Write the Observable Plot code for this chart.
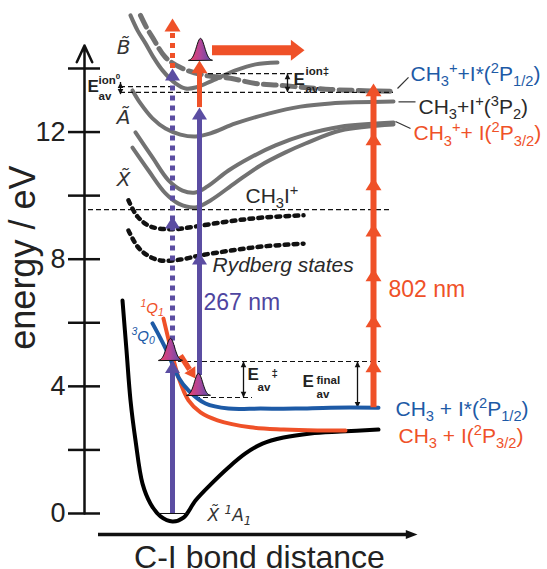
<!DOCTYPE html>
<html><head><meta charset="utf-8">
<script src="https://cdn.jsdelivr.net/npm/d3@7"></script>
<script src="https://cdn.jsdelivr.net/npm/@observablehq/plot@0.6"></script>
<style>
html,body{margin:0;padding:0;background:#fff;}
#chart{width:547px;height:569px;overflow:hidden;}
</style></head><body><div id="chart"></div>
<script>
// ---------- data (x: C-I bond distance, arbitrary units; y: energy in eV) ----------
const energyTicks = [0, 2, 4, 6, 8, 10, 12, 14];
const energyTickLabels = [0, 4, 8, 12];

const groundX1A1 = [[122,6.70],[126,5.13],[130,3.56],[135,2.30],[142,0.94],[150,0.31],[160,-0.09],[172,-0.25],[183,-0.13],[195,0.41],[210,0.91],[228,1.45],[245,1.89],[262,2.20],[283,2.39],[310,2.52],[340,2.58],[378,2.64]];
const state1Q1 = [[163,6.13],[170,5.22],[178,4.28],[188,3.56],[200,3.18],[217,2.93],[250,2.71],[283,2.64],[317,2.61],[345,2.61]];
const state3Q0 = [[152,5.98],[160,5.51],[167,5.07],[178,4.28],[188,3.87],[205,3.46],[228,3.30],[260,3.30],[295,3.30],[330,3.33],[378,3.33]];
const cationA = [[132,13.31],[140,12.90],[152,12.43],[165,12.11],[180,11.92],[195,11.86],[210,11.96],[235,12.27],[268,12.58],[300,12.80],[330,12.90],[393,12.96]];
const cationX1 = [[135,11.99],[152,11.20],[168,10.48],[182,10.16],[195,10.10],[207,10.29],[228,10.79],[250,11.20],[275,11.58],[305,11.92],[340,12.17],[393,12.30]];
const cationX2 = [[132,11.51],[148,10.79],[165,10.07],[178,9.75],[195,9.63],[210,9.85],[235,10.41],[260,10.95],[285,11.36],[305,11.64],[340,12.05],[393,12.24]];
const cationB = [[130,15.67],[137,15.20],[145,14.79],[153,14.35],[162,13.94],[175,13.53],[185,13.37],[195,13.40],[212,13.62],[235,13.94],[255,14.13],[277,14.19]];
const cationBdiss = [[140,15.67],[146,15.29],[152,14.98],[165,14.35],[182,14.00],[205,13.78],[230,13.69],[255,13.53],[280,13.47],[330,13.34],[393,13.28]];
const rydberg1 = [[128,9.85],[137,9.34],[150,9.03],[172,8.94],[195,9.03],[228,9.19],[262,9.31],[303,9.38]];
const rydberg2 = [[128,8.90],[137,8.40],[147,8.12],[160,7.96],[180,7.99],[200,8.12],[230,8.27],[262,8.40],[303,8.49]];

const refLevels = [
  {e:9.56, x1:88, x2:390}, {e:13.43, x1:120, x2:172}, {e:13.25, x1:120, x2:393},
  {e:13.84, x1:208, x2:292}, {e:4.78, x1:178, x2:380}, {e:3.65, x1:195, x2:252}
];
const energyGaps = [
  {x:120, top:13.56, bottom:13.18}, {x:287, top:13.84, bottom:13.25},
  {x:243, top:4.78, bottom:3.65}, {x:357, top:4.78, bottom:3.33}
];
const zeroLevel = [{e:0, x1:158, x2:188}];

const pumpSolid = [{x:172, e1:0, e2:4.7}];
const pumpDotted = [{x:172, e1:4.8, e2:13.85}];
const probeDotted = [{x:172, e1:14.0, e2:15.25}];
const probeSolidPurple = [{x:199, e1:4.34, e2:12.6}];
const probeSolidRed = [{x:199, e1:12.77, e2:14.05}];
const multiphoton = [{x:373, e1:3.33, e2:13.3}];
const purpleHeads = [{x:172,e:4.80},{x:172,e:9.34},{x:172,e:14.0},{x:199,e:8.21},{x:199,e:12.77}];
const redHeads = [{x:172,e:15.57},{x:199,e:14.25},{x:373,e:4.85},{x:373,e:6.26},{x:373,e:7.71},{x:373,e:9.12},{x:373,e:10.57},{x:373,e:11.99},{x:373,e:13.53}];
const wavepackets = [{x:170,e:4.81},{x:198,e:3.71},{x:200,e:14.25}];
const flyShaft = [{e:14.57, x1:212, x2:295}];
const flyHead = [{x:304, e:14.57}];
const relaxShaft = [{x1:180, e1:4.97, x2:189, e2:4.53}];
const relaxHead = [{x:195, e:4.25}];
const leaders = [{x1:397,e1:13.37,x2:408,e2:13.72},{x1:398,e1:12.95,x2:415,e2:12.95},{x1:395,e1:12.33,x2:410,e2:12.11}];

const blueLabels = [{x:410, e:13.83, label:"CH_{3}^{+}+I*(^{2}P_{1/2})"}, {x:395, e:3.29, label:"CH_{3} + I*(^{2}P_{1/2})"}];
const redLabels = [{x:413, e:11.95, label:"CH_{3}^{+}+ I(^{2}P_{3/2})"}, {x:398, e:2.44, label:"CH_{3} + I(^{2}P_{3/2})"}];
const inkLabels = [{x:418, e:12.79, label:"CH_{3}+I^{+}(^{3}P_{2})"}, {x:245, e:9.99, label:"CH_{3}I^{+}"}];
const stateLetters = [{x:123, e:14.67, label:"B\u0303"}, {x:123, e:12.47, label:"A\u0303"}, {x:123, e:10.52, label:"X\u0303"}];
const groundLabel = [{x:207, e:-0.05, label:"X\u0303 ^{1}A_{1}"}];
const qLabels = [{x:140, e:6.47, label:"^{1}Q_{1}", state:"1Q1"}, {x:131, e:5.59, label:"^{3}Q_{0}", state:"3Q0"}];
const photonLabels = [{x:388, e:7.03, label:"802 nm", beam:"probe"}, {x:203, e:6.62, label:"267 nm", beam:"pump"}];
const rydbergLabel = [{x:212, e:7.82, label:"Rydberg states"}];
const eLabels = [
  {x:87, e:13.42, xSup:98, eSup:13.64, sup:"ion^{0}", xSub:98, eSub:13.14, sub:"av"},
  {x:293, e:13.65, xSup:305, eSup:13.91, sup:"ion\u2021", xSub:305, eSub:13.34, sub:"av"},
  {x:247, e:4.37, xSup:271, eSup:4.40, sup:"\u2021", xSub:257, eSub:3.98, sub:"av"},
  {x:302, e:4.14, xSup:316, eSup:4.18, sup:"final", xSub:316, eSub:3.76, sub:"av"}
];
const axisTitles = [{x:23, e:8.05, label:"energy / eV"}];
const axisXTitle = [{x:259, e:-1.38, label:"C-I bond distance"}];
const xAxisLine = [{x1:98, x2:406, e:-0.661}];
const xAxisHead = [{x:417, e:-0.661}];
const yAxisLine = [{x:84, e1:0, e2:14.72}];

// ---------- styles ----------
const RED = "#ef5128", BLUE = "#1d5aa6", PURPLE = "#5b4da2", GRAY = "#727272";
const tipSymbol = ratio => ({draw(ctx, size){const r = Math.sqrt(size/Math.PI), h = ratio*r; ctx.moveTo(0,0); ctx.lineTo(-r,h); ctx.lineTo(r,h); ctx.closePath();}});
const head = tipSymbol(1.6), sharp = tipSymbol(2.0), wide = tipSymbol(1.3), slim = tipSymbol(2.6);
const bell = {draw(ctx, size){const r = Math.sqrt(size/Math.PI), h = 1.85*r, s = 0.34*r, N = 30; ctx.moveTo(-r,0); for (let i = 0; i <= N; i++){const x = -r + 2*r*i/N; ctx.lineTo(x, -h*Math.exp(-x*x/(2*s*s)));} ctx.closePath();}};
const xy = {x: d => d[0], y: d => d[1], curve: "catmull-rom"};
const SANS = "'Liberation Sans', Arial, sans-serif";

const plot = Plot.plot({
  width: 547, height: 569, margin: 0,
  x: {domain: [0, 547], axis: null},
  y: {domain: [-1.762, 16.139], axis: null},
  style: {fontFamily: SANS, background: "#fff"},
  marks: [
    Plot.line(cationA, {...xy, stroke: GRAY, strokeWidth: 4}),
    Plot.line(cationX1, {...xy, stroke: GRAY, strokeWidth: 4}),
    Plot.line(cationX2, {...xy, stroke: GRAY, strokeWidth: 4}),
    Plot.line(cationB, {...xy, stroke: GRAY, strokeWidth: 4}),
    Plot.line(cationBdiss, {...xy, stroke: GRAY, strokeWidth: 5, strokeDasharray: "13,6"}),
    Plot.line(rydberg1, {...xy, stroke: "#111", strokeWidth: 4.5, strokeDasharray: "3.8,5.2"}),
    Plot.line(rydberg2, {...xy, stroke: "#111", strokeWidth: 4.5, strokeDasharray: "3.8,5.2"}),
    Plot.ruleY(refLevels, {y: "e", x1: "x1", x2: "x2", stroke: "#111", strokeWidth: 1.1, strokeDasharray: "5,3"}),
    Plot.ruleX(energyGaps, {x: "x", y1: "top", y2: "bottom", stroke: "#111", strokeWidth: 1.3}),
    Plot.dot(energyGaps, {x: "x", y: "top", symbol: sharp, r: 2.8, fill: "#111", stroke: "none"}),
    Plot.dot(energyGaps, {x: "x", y: "bottom", symbol: sharp, r: 2.8, fill: "#111", stroke: "none", rotate: 180}),
    Plot.line(groundX1A1, {...xy, stroke: "#000", strokeWidth: 4}),
    Plot.line(state1Q1, {...xy, stroke: RED, strokeWidth: 4}),
    Plot.line(state3Q0, {...xy, stroke: BLUE, strokeWidth: 4}),
    Plot.ruleY(zeroLevel, {y: "e", x1: "x1", x2: "x2", stroke: "#111", strokeWidth: 1}),
    Plot.ruleX(pumpSolid, {x: "x", y1: "e1", y2: "e2", stroke: PURPLE, strokeWidth: 5}),
    Plot.ruleX(pumpDotted, {x: "x", y1: "e1", y2: "e2", stroke: PURPLE, strokeWidth: 5, strokeDasharray: "5,5"}),
    Plot.ruleX(probeDotted, {x: "x", y1: "e1", y2: "e2", stroke: RED, strokeWidth: 5, strokeDasharray: "5,5"}),
    Plot.ruleX(probeSolidPurple, {x: "x", y1: "e1", y2: "e2", stroke: PURPLE, strokeWidth: 5}),
    Plot.ruleX(probeSolidRed, {x: "x", y1: "e1", y2: "e2", stroke: RED, strokeWidth: 5}),
    Plot.ruleX(multiphoton, {x: "x", y1: "e1", y2: "e2", stroke: RED, strokeWidth: 6}),
    Plot.dot(purpleHeads, {x: "x", y: "e", symbol: head, r: 7.5, fill: PURPLE, stroke: "none"}),
    Plot.dot(redHeads, {x: "x", y: "e", symbol: head, r: 8, fill: RED, stroke: "none"}),
    Plot.ruleY(flyShaft, {y: "e", x1: "x1", x2: "x2", stroke: RED, strokeWidth: 10}),
    Plot.dot(flyHead, {x: "x", y: "e", symbol: wide, r: 10.5, fill: RED, stroke: "none", rotate: 90}),
    Plot.link(relaxShaft, {x1: "x1", y1: "e1", x2: "x2", y2: "e2", stroke: RED, strokeWidth: 5.5}),
    Plot.dot(relaxHead, {x: "x", y: "e", symbol: head, r: 6.5, fill: RED, stroke: "none", rotate: 147}),
    Plot.dot(wavepackets, {x: "x", y: "e", symbol: bell, r: 12, fill: "url(#wpGrad)", stroke: "#111", strokeWidth: 1}),
    Plot.link(leaders, {x1: "x1", y1: "e1", x2: "x2", y2: "e2", stroke: "#333", strokeWidth: 1.2}),
    // axes
    Plot.ruleY(energyTicks, {x1: 68, x2: 100, stroke: "#111", strokeWidth: 2.5}),
    Plot.arrow(yAxisLine, {x1: "x", x2: "x", y1: "e1", y2: "e2", stroke: "#111", strokeWidth: 2.5, headLength: 11, headAngle: 50}),
    Plot.ruleY(xAxisLine, {y: "e", x1: "x1", x2: "x2", stroke: "#111", strokeWidth: 3.5}),
    Plot.dot(xAxisHead, {x: "x", y: "e", symbol: slim, r: 4.5, fill: "#111", stroke: "none", rotate: 90}),
    Plot.axisY(energyTickLabels, {anchor: "left", tickSize: 0, tickPadding: 0, dx: 65, fontSize: 27, label: null, fill: "#222"}),
    Plot.text(axisTitles, {x: "x", y: "e", text: "label", rotate: -90, fontSize: 36, fill: "#222"}),
    Plot.text(axisXTitle, {x: "x", y: "e", text: "label", fontSize: 32, fill: "#222"}),
    // labels
    Plot.text(blueLabels, {x: "x", y: "e", text: "label", textAnchor: "start", fontSize: 21, fill: BLUE}),
    Plot.text(redLabels, {x: "x", y: "e", text: "label", textAnchor: "start", fontSize: 21, fill: RED}),
    Plot.text(inkLabels, {x: "x", y: "e", text: "label", textAnchor: "start", fontSize: 21, fill: "#2a2a2a"}),
    Plot.text(stateLetters, {x: "x", y: "e", text: "label", fontSize: 20, fontStyle: "italic", fontFamily: "DejaVu Sans", fill: "#333"}),
    Plot.text(groundLabel, {x: "x", y: "e", text: "label", textAnchor: "start", fontSize: 17, fontStyle: "italic", fontFamily: "DejaVu Sans", fill: "#333"}),
    Plot.text(qLabels.filter(d => d.state === "1Q1"), {x: "x", y: "e", text: "label", textAnchor: "start", fontSize: 15, fontStyle: "italic", fill: RED}),
    Plot.text(qLabels.filter(d => d.state === "3Q0"), {x: "x", y: "e", text: "label", textAnchor: "start", fontSize: 15, fontStyle: "italic", fill: BLUE}),
    Plot.text(photonLabels.filter(d => d.beam === "probe"), {x: "x", y: "e", text: "label", textAnchor: "start", fontSize: 23, fill: RED}),
    Plot.text(photonLabels.filter(d => d.beam === "pump"), {x: "x", y: "e", text: "label", textAnchor: "start", fontSize: 23, fill: "#4e45a0"}),
    Plot.text(rydbergLabel, {x: "x", y: "e", text: "label", textAnchor: "start", fontSize: 21, fontStyle: "italic", fill: "#2a2a2a"}),
    Plot.text(eLabels, {x: "x", y: "e", text: () => "E", textAnchor: "start", fontSize: 17, fontWeight: "bold", fill: "#222"}),
    Plot.text(eLabels, {x: "xSup", y: "eSup", text: "sup", textAnchor: "start", fontSize: 11.5, fontWeight: "bold", fill: "#222"}),
    Plot.text(eLabels, {x: "xSub", y: "eSub", text: "sub", textAnchor: "start", fontSize: 11.5, fontWeight: "bold", fill: "#222"})
  ]
});

// gradient for the wavepackets
const defs = d3.select(plot).insert("defs", ":first-child");
const grad = defs.append("linearGradient").attr("id", "wpGrad").attr("x1", "0").attr("x2", "1").attr("y1", "0").attr("y2", "0");
grad.append("stop").attr("offset", "0").attr("stop-color", "#f2435e");
grad.append("stop").attr("offset", "0.5").attr("stop-color", "#b2459a");
grad.append("stop").attr("offset", "1").attr("stop-color", "#4f4fa8");

// sub/superscript markup -> tspans
d3.select(plot).selectAll("text").each(function () {
  const t = this.textContent;
  if (!/[_^]\{/.test(t)) return;
  const el = d3.select(this); el.text(null);
  const re = /([_^])\{([^}]*)\}|([^_^]+)/g; let m, cur = 0;
  while ((m = re.exec(t))) {
    const kind = m[1] || "", str = kind ? m[2] : m[3];
    const s = kind ? 0.7 : 1, o = kind === "_" ? 0.25 : kind === "^" ? -0.38 : 0;
    const ts = el.append("tspan").text(str);
    if (kind) ts.attr("font-size", "70%");
    const dy = (o - cur) / s;
    if (Math.abs(dy) > 1e-6) ts.attr("dy", dy.toFixed(3) + "em");
    cur = o;
  }
});

document.getElementById("chart").appendChild(plot);
</script></body></html>
